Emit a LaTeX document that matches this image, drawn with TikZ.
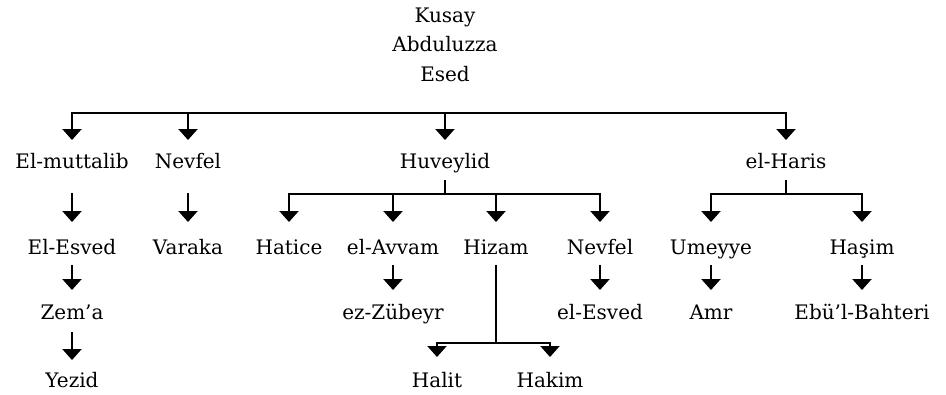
\documentclass[tikz,border=0pt]{standalone}
\usepackage{fontspec}
\setmainfont{DejaVu Serif}
\usetikzlibrary{arrows.meta}
\begin{document}
\begin{tikzpicture}[x=1pt,y=-1pt,
  lbl/.style={anchor=base,inner sep=0pt,font=\fontsize{20}{24}\selectfont},
  ln/.style={line width=2.2pt},
  arr/.style={line width=2.2pt,-{Triangle[width=19pt,length=11pt]}}]
\useasboundingbox (0,0) rectangle (946,394);
% top names
\node[lbl] (kusay) at (445,22) {Kusay};
\node[lbl] (abduluzza) at (445,51.5) {Abduluzza};
\node[lbl] (esed) at (445,81) {Esed};
% row 1
\node[lbl] (elmuttalib) at (72,168) {El-muttalib};
\node[lbl] (nevfelA) at (188,168) {Nevfel};
\node[lbl] (huveylid) at (445,168) {Huveylid};
\node[lbl] (elharis) at (786,168) {el-Haris};
% row 2
\node[lbl] (elesvedA) at (72,254) {El-Esved};
\node[lbl] (varaka) at (188,254) {Varaka};
\node[lbl] (hatice) at (289,254) {Hatice};
\node[lbl] (elavvam) at (393,254) {el-Avvam};
\node[lbl] (hizam) at (496,254) {Hizam};
\node[lbl] (nevfelB) at (600,254) {Nevfel};
\node[lbl] (umeyye) at (711,254) {Umeyye};
\node[lbl] (hasim) at (862,254) {Haşim};
% row 3
\node[lbl] (zema) at (72,319) {Zem’a};
\node[lbl] (ezzubeyr) at (393,319) {ez-Zübeyr};
\node[lbl] (elesvedB) at (600,319) {el-Esved};
\node[lbl] (amr) at (711,319) {Amr};
\node[lbl] (ebul) at (862,319) {Ebü’l-Bahteri};
% row 4
\node[lbl] (yezid) at (72,387) {Yezid};
\node[lbl] (halit) at (437,387) {Halit};
\node[lbl] (hakim) at (550,387) {Hakim};
% branch coordinates
\coordinate (topbar) at (445,113);
\coordinate (hbar) at (445,194);
\coordinate (ebar) at (786,194);
\coordinate (zbar) at (496,343);
% top level
\draw[arr] (topbar) -| ([yshift=28pt]elmuttalib.base);
\draw[arr] (topbar) -| ([yshift=28pt]elharis.base);
\draw[arr] (nevfelA |- topbar) -- ([yshift=28pt]nevfelA.base);
\draw[arr] (topbar) -- ([yshift=28pt]huveylid.base);
% El-muttalib line
\draw[arr] ([yshift=-25pt]elmuttalib.base) -- ([yshift=32pt]elesvedA.base);
\draw[arr] ([yshift=-11pt]elesvedA.base) -- ([yshift=29pt]zema.base);
\draw[arr] ([yshift=-13pt]zema.base) -- ([yshift=27pt]yezid.base);
% Nevfel -> Varaka
\draw[arr] ([yshift=-25pt]nevfelA.base) -- ([yshift=32pt]varaka.base);
% Huveylid
\draw[ln] ([yshift=-12pt]huveylid.base) -- (hbar);
\draw[arr] (hbar) -| ([yshift=32pt]hatice.base);
\draw[arr] (hbar) -| ([yshift=32pt]nevfelB.base);
\draw[arr] (elavvam |- hbar) -- ([yshift=32pt]elavvam.base);
\draw[arr] (hizam |- hbar) -- ([yshift=32pt]hizam.base);
\draw[arr] ([yshift=-11pt]elavvam.base) -- ([yshift=29pt]ezzubeyr.base);
\draw[arr] ([yshift=-11pt]nevfelB.base) -- ([yshift=29pt]elesvedB.base);
% Hizam
\draw[ln] ([yshift=-11pt]hizam.base) -- (zbar);
\draw[arr] (zbar) -| ([yshift=30pt]halit.base);
\draw[arr] (zbar) -| ([yshift=30pt]hakim.base);
% el-Haris
\draw[ln] ([yshift=-12pt]elharis.base) -- (ebar);
\draw[arr] (ebar) -| ([yshift=32pt]umeyye.base);
\draw[arr] (ebar) -| ([yshift=32pt]hasim.base);
\draw[arr] ([yshift=-11pt]umeyye.base) -- ([yshift=29pt]amr.base);
\draw[arr] ([yshift=-11pt]hasim.base) -- ([yshift=29pt]ebul.base);
\end{tikzpicture}
\end{document}
